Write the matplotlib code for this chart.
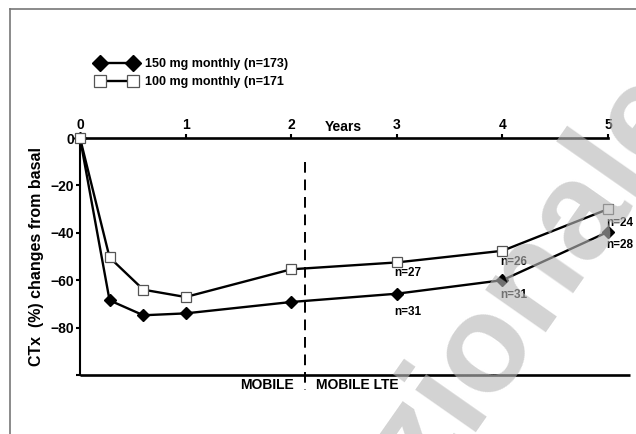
import matplotlib
matplotlib.use('Agg')
import matplotlib.pyplot as plt
from matplotlib.lines import Line2D

# ---- data ----
years = [0, 0.28, 0.6, 1, 2, 3, 4, 5]
ctx_150 = [0, -68.5, -74.8, -74.0, -69.2, -65.7, -60.0, -39.6]
ctx_100 = [0, -50.4, -64.0, -67.1, -55.4, -52.5, -47.6, -30.0]
n_years = [3, 4, 5]
n_150 = [31, 31, 28]
n_100 = [27, 26, 24]
x_ticks = [0, 1, 2, 3, 4, 5]
y_ticks = [0, -20, -40, -60, -80, -100]
y_ticklabels = ['0', '\u221220', '\u221240', '\u221260', '\u221280', '']
phase_split = 2.13
label_150 = '150 mg monthly (n=173)'
label_100 = '100 mg monthly (n=171'
phase_left = 'MOBILE'
phase_right = 'MOBILE LTE'
watermark = 'zionale'

plt.rcParams['font.family'] = ['Liberation Sans', 'DejaVu Sans']
plt.rcParams['font.weight'] = 'bold'

W, H = 636, 434
fig = plt.figure(figsize=(W / 100, H / 100), dpi=100)
fig.patch.set_facecolor('white')

def fx(px):
    return px / W

def fy(py):
    return 1 - py / H

ax_w = (608 - 80) / W
ax = fig.add_axes([fx(80), fy(375), ax_w, (375 - 138) / H])
ax.set_xlim(0, 5)
ax.set_ylim(-100, 0)
ax.patch.set_alpha(0)

for s in ['right', 'bottom']:
    ax.spines[s].set_visible(False)
ax.spines['top'].set_linewidth(1.9)
ax.spines['left'].set_linewidth(1.5)

ax.xaxis.tick_top()
ax.set_xticks(x_ticks)
ax.set_xticklabels([str(t) for t in x_ticks], fontsize=10, fontweight='bold')
ax.tick_params(axis='x', direction='out', length=3, width=1.5, pad=1.5)
ax.set_yticks(y_ticks)
ax.set_yticklabels(y_ticklabels, fontsize=10, fontweight='bold')
ax.tick_params(axis='y', direction='out', length=3, width=1.5, pad=1)

# bottom baseline extending beyond the last year
ax.plot([0, 5.21], [-100, -100], color='black', lw=1.9, clip_on=False,
        solid_capstyle='butt')

# phase divider
ax.plot([phase_split, phase_split], [-10, -106.5], color='black', lw=1.4,
        dashes=(5.5, 3.5), clip_on=False)

l150, = ax.plot(years, ctx_150, color='black', lw=1.7, marker='D', ms=6.5,
                mfc='black', mec='black', clip_on=False, zorder=4,
                label=label_150)
l100, = ax.plot(years, ctx_100, color='black', lw=1.7, marker='s', ms=7,
                mfc='white', mec='#555555', mew=0.9, clip_on=False, zorder=5,
                label=label_100)

offs100 = [-3.2, -3.8, -5.8]
for x, n, o in zip(n_years, n_100, offs100):
    ax.annotate(f'n={n}', xy=(x, ctx_100[years.index(x)]), xytext=(-1.5, o),
                textcoords='offset points', ha='left', va='top', fontsize=8.5,
                fontweight='bold')
offs150 = [-8.5, -6, -5.5]
for x, n, o in zip(n_years, n_150, offs150):
    ax.annotate(f'n={n}', xy=(x, ctx_150[years.index(x)]), xytext=(-1.5, o),
                textcoords='offset points', ha='left', va='top', fontsize=8.5,
                fontweight='bold')

ax.set_ylabel('CTx  (%) changes from basal', fontsize=11.5, fontweight='bold')
ax.yaxis.set_label_coords((44 - 80) / (ax_w * W), 0.5)

fig.text(fx(343), fy(127), 'Years', ha='center', va='center', fontsize=10,
         fontweight='bold')
ax.annotate(phase_left, xy=(phase_split, -100), xytext=(-8, -7.2),
            textcoords='offset points', ha='right', va='center', fontsize=10,
            fontweight='bold')
ax.annotate(phase_right, xy=(phase_split, -100), xytext=(8, -7.2),
            textcoords='offset points', ha='left', va='center', fontsize=10,
            fontweight='bold')

leg = ax.legend(handles=[l150, l100], loc='upper left', numpoints=2,
                bbox_to_anchor=(fx(96), fy(58)), bbox_transform=fig.transFigure,
                frameon=False, fontsize=9, handlelength=3.25, handletextpad=0.65,
                labelspacing=0.5, markerscale=1.2, borderpad=0, borderaxespad=0)
for t in leg.get_texts():
    t.set_fontweight('bold')

# page frame
fig.add_artist(Line2D([fx(10), fx(10)], [fy(9), 0], color='#777777', lw=1.2))
fig.add_artist(Line2D([fx(10), 1], [fy(9), fy(9)], color='#777777', lw=1.2))

# watermark (anchored at the start of the 'i')
wm_style = dict(rotation=55, rotation_mode='anchor', va='baseline', fontsize=100,
                fontweight='bold', family='Liberation Sans', color='#b8b8b8',
                alpha=0.62, zorder=20)
fig.text(fx(466), fy(432), watermark[1:], ha='left', **wm_style)
fig.text(fx(466), fy(432), watermark[0], ha='right', **wm_style)

fig.savefig('out.png', dpi=100, facecolor='white')
